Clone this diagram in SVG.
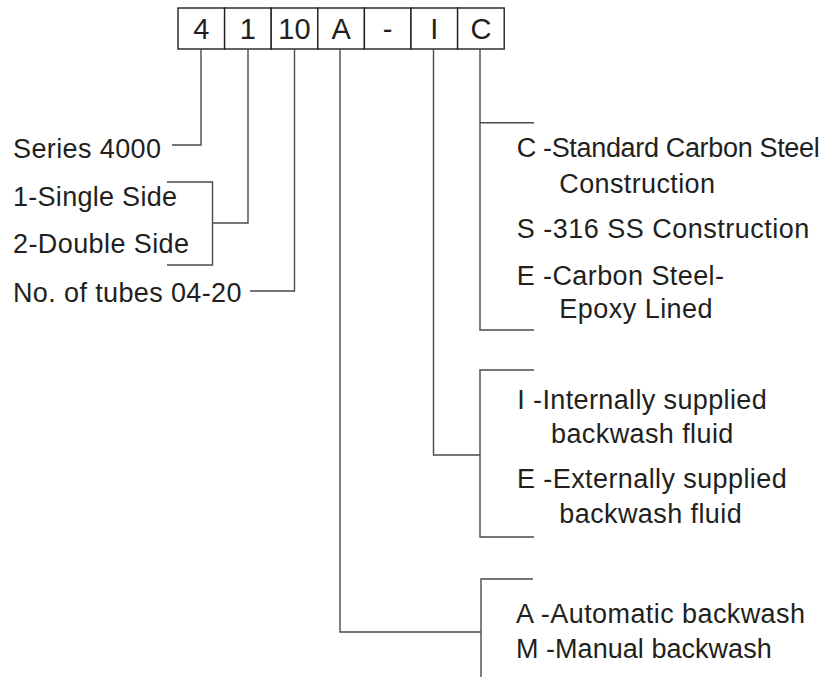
<svg xmlns="http://www.w3.org/2000/svg" width="836" height="677" viewBox="0 0 836 677">
<style>
text{font-family:"Liberation Sans",Arial,sans-serif;fill:#231f20}
.t{font-size:27px}
.b{font-size:29px;text-anchor:middle}
.l{fill:none;stroke:#4a4a4a;stroke-width:1.4}
.box{fill:#fff;stroke:#231f20;stroke-width:1.4}
</style>
<rect width="836" height="677" fill="#fff"/>
<g id="code">
<rect class="box" x="178" y="8" width="46.6" height="41"/>
<rect class="box" x="224.6" y="8" width="46.6" height="41"/>
<rect class="box" x="271.2" y="8" width="46.6" height="41"/>
<rect class="box" x="317.8" y="8" width="46.6" height="41"/>
<rect class="box" x="364.4" y="8" width="46.6" height="41"/>
<rect class="box" x="411" y="8" width="46.6" height="41"/>
<rect class="box" x="457.6" y="8" width="46.6" height="41"/>
<text class="b" x="201.3" y="38.5">4</text>
<text class="b" x="247.9" y="38.5">1</text>
<text class="b" x="294.5" y="38.5">10</text>
<text class="b" x="341.1" y="38.5">A</text>
<text class="b" x="387.7" y="38.5">-</text>
<text class="b" x="434.3" y="38.5">I</text>
<text class="b" x="480.9" y="38.5">C</text>
</g>
<g id="connectors">
<path class="l" d="M201 49V145H172"/>
<path class="l" d="M248 49V223H212.5"/>
<path class="l" d="M167 182H212.5V265H167"/>
<path class="l" d="M294.5 49V291H250"/>
<path class="l" d="M340 49V632H481"/>
<path class="l" d="M533 579H481V677"/>
<path class="l" d="M433.5 49V455H480"/>
<path class="l" d="M534 370H480V537H534"/>
<path class="l" d="M480 49V330H534"/>
<path class="l" d="M480 122.7H534"/>
</g>
<g id="left-labels">
<text class="t" x="13" y="157.7" textLength="148" lengthAdjust="spacing">Series 4000</text>
<text class="t" x="13" y="206" textLength="164" lengthAdjust="spacing">1-Single Side</text>
<text class="t" x="13" y="253.3" textLength="176" lengthAdjust="spacing">2-Double Side</text>
<text class="t" x="13" y="301.7" textLength="228.5" lengthAdjust="spacing">No. of tubes 04-20</text>
</g>
<g id="material">
<text class="t" x="516.7" y="157.3" textLength="303" lengthAdjust="spacing">C -Standard Carbon Steel</text>
<text class="t" x="559.3" y="193.3" textLength="155.7" lengthAdjust="spacing">Construction</text>
<text class="t" x="516.7" y="238.3" textLength="292.7" lengthAdjust="spacing">S -316 SS Construction</text>
<text class="t" x="516.7" y="285" textLength="207.3" lengthAdjust="spacing">E -Carbon Steel-</text>
<text class="t" x="559.3" y="318.3" textLength="153.3" lengthAdjust="spacing">Epoxy Lined</text>
</g>
<g id="fluid">
<text class="t" x="517.3" y="409" textLength="249.4" lengthAdjust="spacing">I -Internally supplied</text>
<text class="t" x="551" y="443.3" textLength="182.3" lengthAdjust="spacing">backwash fluid</text>
<text class="t" x="517" y="488.3" textLength="269.7" lengthAdjust="spacing">E -Externally supplied</text>
<text class="t" x="559.3" y="523.3" textLength="182.4" lengthAdjust="spacing">backwash fluid</text>
</g>
<g id="backwash">
<text class="t" x="516" y="623.3" textLength="289" lengthAdjust="spacing">A -Automatic backwash</text>
<text class="t" x="516" y="658.3" textLength="255.7" lengthAdjust="spacing">M -Manual backwash</text>
</g>
</svg>
